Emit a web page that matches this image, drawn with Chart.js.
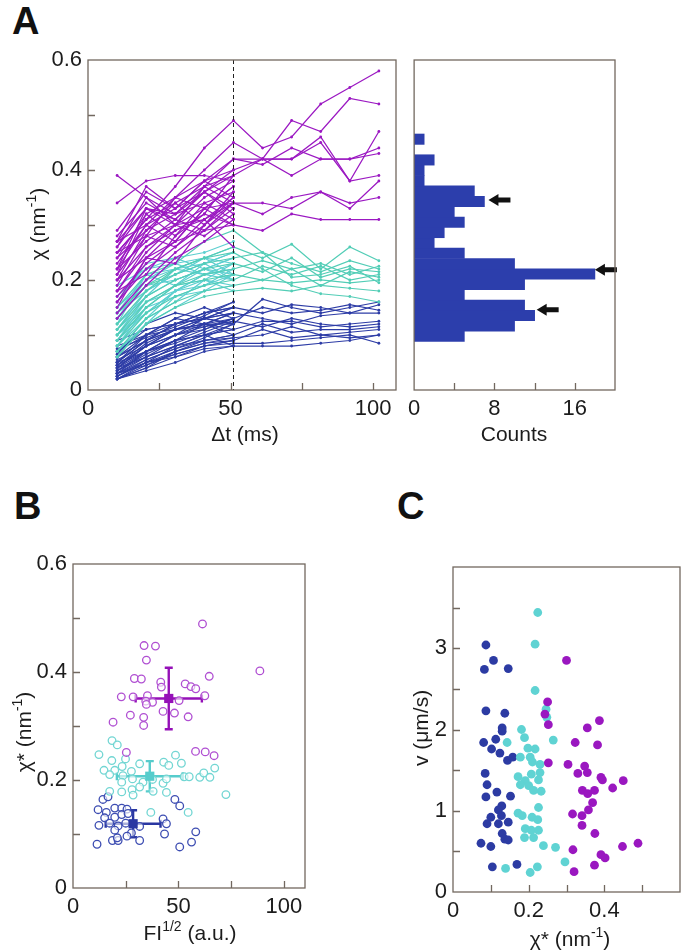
<!DOCTYPE html>
<html>
<head>
<meta charset="utf-8">
<script src="https://cdn.jsdelivr.net/npm/chart.js@4.4.1/dist/chart.umd.min.js"></script>
<style>
  html, body { margin: 0; padding: 0; background: #fff; }
  body { width: 686px; height: 952px; position: relative; overflow: hidden; }
  canvas { position: absolute; }
  .letter { position: absolute; font-family: 'Liberation Sans Narrow', 'Liberation Sans', sans-serif; font-weight: bold; font-size: 38px; line-height: 1; color: #111; }
</style>
</head>
<body>
<div class="letter" style="left:12px; top:2px;">A</div>
<div class="letter" style="left:14px; top:487px;">B</div>
<div class="letter" style="left:397px; top:487px;">C</div>
<canvas id="aLines" width="400" height="410" style="left:0; top:40px;"></canvas>
<canvas id="aHist" width="220" height="410" style="left:402px; top:40px;"></canvas>
<canvas id="bScatter" width="320" height="412" style="left:0; top:540px;"></canvas>
<canvas id="cScatter" width="306" height="412" style="left:380px; top:540px;"></canvas>
<script>
// ---- A: trajectories chi(dt) ----
const dtMs = [10.2, 20.4, 30.6, 40.8, 51.0, 61.2, 71.4, 81.6, 91.8, 102.0];
const splitDt = 51;

const purpleShort = [
  [0.39, 0.35, 0.32, 0.34, 0.36], [0.34, 0.38, 0.39, 0.39, 0.38], [0.27, 0.37, 0.33, 0.36, 0.40],
  [0.28, 0.34, 0.31, 0.36, 0.33], [0.26, 0.33, 0.30, 0.35, 0.38], [0.25, 0.31, 0.34, 0.30, 0.35],
  [0.24, 0.29, 0.32, 0.37, 0.34], [0.23, 0.30, 0.27, 0.33, 0.37], [0.22, 0.27, 0.31, 0.29, 0.33],
  [0.21, 0.32, 0.28, 0.34, 0.31], [0.20, 0.26, 0.29, 0.32, 0.39], [0.19, 0.28, 0.26, 0.31, 0.35],
  [0.18, 0.25, 0.30, 0.28, 0.32], [0.17, 0.23, 0.27, 0.33, 0.30], [0.16, 0.22, 0.26, 0.30, 0.36],
  [0.15, 0.24, 0.29, 0.31, 0.26], [0.14, 0.20, 0.25, 0.29, 0.34], [0.13, 0.19, 0.24, 0.27, 0.31],
  [0.27, 0.30, 0.33, 0.38, 0.35], [0.25, 0.28, 0.35, 0.33, 0.37], [0.22, 0.33, 0.31, 0.36, 0.32],
  [0.20, 0.24, 0.23, 0.30, 0.34], [0.18, 0.21, 0.28, 0.32, 0.30], [0.26, 0.35, 0.30, 0.37, 0.39]
];
const purpleLong = [
  [0.25, 0.31, 0.37, 0.44, 0.49, 0.44, 0.46, 0.52, 0.55, 0.58],
  [0.22, 0.30, 0.35, 0.40, 0.45, 0.42, 0.49, 0.47, 0.53, 0.52],
  [0.27, 0.33, 0.32, 0.36, 0.39, 0.42, 0.42, 0.46, 0.38, 0.47],
  [0.20, 0.29, 0.34, 0.37, 0.42, 0.41, 0.44, 0.42, 0.42, 0.44],
  [0.24, 0.32, 0.35, 0.38, 0.40, 0.42, 0.39, 0.42, 0.42, 0.43],
  [0.29, 0.36, 0.33, 0.38, 0.42, 0.42, 0.42, 0.45, 0.38, 0.39],
  [0.18, 0.26, 0.30, 0.31, 0.34, 0.32, 0.35, 0.36, 0.33, 0.38],
  [0.21, 0.28, 0.30, 0.33, 0.34, 0.34, 0.33, 0.36, 0.34, 0.35],
  [0.16, 0.24, 0.27, 0.29, 0.30, 0.29, 0.32, 0.31, 0.31, 0.31]
];
const cyanShort = [
  [0.19, 0.22, 0.24, 0.25, 0.27], [0.17, 0.22, 0.23, 0.24, 0.26], [0.15, 0.20, 0.22, 0.23, 0.25],
  [0.14, 0.18, 0.21, 0.24, 0.23], [0.13, 0.19, 0.20, 0.22, 0.24], [0.12, 0.17, 0.22, 0.21, 0.22],
  [0.11, 0.16, 0.19, 0.22, 0.21], [0.10, 0.15, 0.19, 0.20, 0.23], [0.09, 0.14, 0.18, 0.21, 0.20],
  [0.08, 0.15, 0.17, 0.19, 0.22], [0.07, 0.13, 0.16, 0.20, 0.19], [0.06, 0.12, 0.17, 0.18, 0.21],
  [0.11, 0.18, 0.21, 0.23, 0.20], [0.10, 0.17, 0.20, 0.22, 0.24], [0.09, 0.16, 0.18, 0.20, 0.18],
  [0.13, 0.20, 0.23, 0.21, 0.23], [0.08, 0.13, 0.18, 0.21, 0.22], [0.12, 0.21, 0.22, 0.24, 0.21],
  [0.14, 0.21, 0.19, 0.23, 0.25], [0.16, 0.23, 0.24, 0.22, 0.20], [0.07, 0.12, 0.15, 0.18, 0.19],
  [0.10, 0.14, 0.18, 0.19, 0.21]
];
const cyanLong = [
  [0.12, 0.18, 0.22, 0.24, 0.26, 0.24, 0.265, 0.22, 0.26, 0.235],
  [0.14, 0.19, 0.21, 0.23, 0.24, 0.25, 0.23, 0.215, 0.235, 0.22],
  [0.09, 0.15, 0.19, 0.21, 0.22, 0.235, 0.22, 0.23, 0.21, 0.225],
  [0.11, 0.17, 0.20, 0.22, 0.23, 0.215, 0.24, 0.205, 0.22, 0.215],
  [0.08, 0.14, 0.17, 0.19, 0.20, 0.225, 0.21, 0.225, 0.20, 0.21],
  [0.10, 0.16, 0.19, 0.20, 0.21, 0.20, 0.22, 0.19, 0.215, 0.205],
  [0.07, 0.13, 0.16, 0.18, 0.19, 0.20, 0.195, 0.20, 0.195, 0.20],
  [0.13, 0.19, 0.22, 0.24, 0.25, 0.22, 0.19, 0.175, 0.17, 0.16],
  [0.06, 0.12, 0.15, 0.17, 0.18, 0.185, 0.18, 0.19, 0.185, 0.18],
  [0.15, 0.21, 0.23, 0.27, 0.29, 0.25, 0.205, 0.21, 0.225, 0.195]
];
const blueShort = [
  [0.02, 0.04, 0.07, 0.09, 0.10], [0.025, 0.05, 0.08, 0.10, 0.12], [0.03, 0.06, 0.09, 0.11, 0.13],
  [0.035, 0.07, 0.10, 0.12, 0.14], [0.04, 0.08, 0.11, 0.13, 0.15], [0.045, 0.07, 0.09, 0.12, 0.11],
  [0.05, 0.09, 0.12, 0.14, 0.16], [0.055, 0.08, 0.10, 0.11, 0.13], [0.06, 0.10, 0.13, 0.12, 0.14],
  [0.03, 0.05, 0.06, 0.08, 0.09], [0.04, 0.06, 0.08, 0.10, 0.08], [0.05, 0.07, 0.10, 0.13, 0.12],
  [0.07, 0.11, 0.12, 0.14, 0.15], [0.08, 0.10, 0.13, 0.15, 0.13], [0.035, 0.065, 0.09, 0.10, 0.11],
  [0.045, 0.085, 0.11, 0.12, 0.10], [0.02, 0.035, 0.05, 0.07, 0.08], [0.06, 0.09, 0.11, 0.13, 0.14],
  [0.025, 0.055, 0.075, 0.095, 0.12], [0.065, 0.12, 0.14, 0.13, 0.15], [0.09, 0.11, 0.12, 0.13, 0.12],
  [0.04, 0.07, 0.085, 0.105, 0.125], [0.03, 0.045, 0.07, 0.085, 0.095], [0.05, 0.10, 0.11, 0.115, 0.13],
  [0.075, 0.095, 0.115, 0.135, 0.16], [0.02, 0.05, 0.065, 0.08, 0.09]
];
const blueLong = [
  [0.06, 0.09, 0.11, 0.12, 0.12, 0.165, 0.15, 0.14, 0.15, 0.16],
  [0.05, 0.09, 0.12, 0.14, 0.15, 0.14, 0.155, 0.15, 0.14, 0.155],
  [0.04, 0.08, 0.11, 0.12, 0.13, 0.15, 0.14, 0.145, 0.155, 0.145],
  [0.07, 0.10, 0.12, 0.13, 0.14, 0.13, 0.12, 0.135, 0.14, 0.14],
  [0.03, 0.07, 0.09, 0.10, 0.11, 0.125, 0.125, 0.115, 0.12, 0.125],
  [0.045, 0.08, 0.10, 0.115, 0.125, 0.115, 0.13, 0.12, 0.115, 0.12],
  [0.035, 0.06, 0.08, 0.09, 0.10, 0.12, 0.105, 0.11, 0.11, 0.115],
  [0.03, 0.055, 0.075, 0.09, 0.095, 0.10, 0.115, 0.10, 0.105, 0.11],
  [0.025, 0.05, 0.07, 0.085, 0.09, 0.11, 0.095, 0.10, 0.095, 0.10],
  [0.02, 0.045, 0.065, 0.08, 0.085, 0.085, 0.09, 0.095, 0.10, 0.085],
  [0.02, 0.04, 0.06, 0.075, 0.08, 0.08, 0.08, 0.085, 0.09, 0.10]
];

// ---- A: histogram of chi ----
const chiBins = [0.064, 0.086, 0.108, 0.130, 0.152, 0.174, 0.196, 0.218, 0.240, 0.262,
                 0.284, 0.306, 0.328, 0.350, 0.372, 0.394, 0.416, 0.438, 0.460, 0.482];
const binCounts = [5, 10, 12, 11, 5, 11, 18, 10, 5, 2, 3, 5, 4, 7, 6, 1, 1, 2, 0, 1];
const arrowCounts = [7.4, 18.0, 12.2];
const arrowChi = [0.353, 0.205, 0.120];

// ---- B: chi* vs FI^1/2 ----
const bPurpleFI = [61.4, 33.7, 39.1, 34.8, 88.6, 29.1, 32.4, 64.6, 41.6, 41.9, 53.2, 55.9, 58.2, 22.9, 28.5, 35.3,
                   62.5, 34.5, 37.7, 50.3, 34.8, 42.7, 48.1, 27.2, 33.5, 54.6, 33.5, 19.0, 25.3, 58.1, 62.7, 66.9];
const bPurpleChi = [0.489, 0.449, 0.448, 0.422, 0.402, 0.388, 0.387, 0.392, 0.381, 0.372, 0.378, 0.373, 0.369, 0.354, 0.354, 0.356,
                    0.356, 0.346, 0.344, 0.347, 0.340, 0.327, 0.324, 0.320, 0.316, 0.317, 0.301, 0.307, 0.251, 0.253, 0.252, 0.245];
const bCyanFI = [18.5, 21.0, 12.3, 18.4, 24.9, 14.7, 19.8, 23.3, 31.6, 43.0, 45.4, 48.6, 51.4, 67.2, 17.4, 23.7, 27.7, 52.7, 55.1,
                 60.1, 62.0, 64.9, 23.1, 28.2, 33.2, 37.7, 42.7, 44.3, 17.4, 23.1, 28.0, 28.5, 31.6, 38.0, 44.3, 72.5, 36.9, 54.6];
const bCyanChi = [0.273, 0.265, 0.247, 0.236, 0.239, 0.218, 0.218, 0.225, 0.230, 0.233, 0.227, 0.246, 0.231, 0.222, 0.210, 0.208, 0.216, 0.206, 0.206,
                  0.205, 0.213, 0.205, 0.196, 0.202, 0.196, 0.201, 0.194, 0.202, 0.179, 0.178, 0.182, 0.172, 0.187, 0.179, 0.177, 0.173, 0.140, 0.140];
const bBlueFI = [14.2, 16.6, 11.9, 19.8, 23.1, 25.6, 15.8, 15.0, 19.8, 23.1, 26.1, 42.7, 44.3, 12.3, 17.4, 21.4, 25.0, 31.6,
                 48.3, 50.6, 43.4, 19.8, 27.7, 25.6, 18.7, 21.4, 21.0, 31.6, 11.4, 50.6, 56.2, 58.2];
const bBlueChi = [0.164, 0.169, 0.145, 0.148, 0.148, 0.146, 0.140, 0.130, 0.131, 0.136, 0.138, 0.128, 0.119, 0.116, 0.120, 0.115, 0.120, 0.114,
                  0.164, 0.152, 0.100, 0.107, 0.102, 0.096, 0.088, 0.088, 0.093, 0.088, 0.081, 0.076, 0.085, 0.104];
// group means with error bars: blue, cyan, purple
const meanFI = [28.5, 36.4, 45.4];
const meanChi = [0.119, 0.207, 0.351];
const errFI = [13.0, 15.6, 15.7];
const errChi = [0.025, 0.028, 0.057];

// ---- C: v vs chi* ----
const cBlueChi = [0.087, 0.107, 0.083, 0.146, 0.087, 0.137, 0.130, 0.130, 0.081, 0.113, 0.102, 0.124, 0.144, 0.158, 0.085, 0.090, 0.116,
                  0.087, 0.152, 0.129, 0.120, 0.100, 0.128, 0.090, 0.120, 0.146, 0.130, 0.137, 0.146, 0.074, 0.100, 0.104, 0.169];
const cBlueV = [3.04, 2.85, 2.74, 2.75, 2.23, 2.20, 2.02, 1.98, 1.84, 1.88, 1.76, 1.71, 1.62, 1.66, 1.46, 1.32, 1.23,
                1.17, 1.18, 1.06, 1.01, 0.92, 0.94, 0.84, 0.84, 0.86, 0.72, 0.65, 0.64, 0.60, 0.56, 0.31, 0.34];
const cCyanChi = [0.224, 0.217, 0.217, 0.246, 0.248, 0.143, 0.181, 0.189, 0.265, 0.178, 0.198, 0.217, 0.204, 0.210, 0.230, 0.172, 0.207, 0.230, 0.191,
                  0.226, 0.178, 0.200, 0.213, 0.233, 0.226, 0.172, 0.183, 0.209, 0.224, 0.191, 0.207, 0.226, 0.189, 0.213, 0.239, 0.271, 0.296, 0.139, 0.204, 0.223];
const cCyanV = [3.44, 3.05, 2.48, 2.25, 2.15, 1.84, 2.00, 1.90, 1.87, 1.66, 1.77, 1.76, 1.66, 1.60, 1.57, 1.42, 1.45, 1.47, 1.37,
                1.38, 1.32, 1.31, 1.25, 1.24, 1.04, 0.97, 0.94, 0.92, 0.89, 0.78, 0.76, 0.76, 0.67, 0.67, 0.57, 0.55, 0.37, 0.29, 0.24, 0.31];
const cPurpleChi = [0.300, 0.250, 0.243, 0.252, 0.387, 0.355, 0.323, 0.382, 0.252, 0.304, 0.348, 0.330, 0.355, 0.391, 0.395, 0.450, 0.422,
                    0.342, 0.374, 0.356, 0.369, 0.358, 0.316, 0.341, 0.341, 0.375, 0.317, 0.448, 0.489, 0.391, 0.402, 0.374, 0.320];
const cPurpleV = [2.85, 2.34, 2.19, 2.06, 2.11, 2.02, 1.84, 1.81, 1.59, 1.57, 1.55, 1.46, 1.47, 1.41, 1.38, 1.37, 1.28,
                  1.25, 1.25, 1.21, 1.10, 1.01, 0.96, 0.94, 0.82, 0.72, 0.52, 0.56, 0.60, 0.46, 0.42, 0.33, 0.25];

// ---- styling ----
const PURPLE = '#9b18c2';
const CYAN = '#5ccfd0';
const TEAL = '#52cdb6';
const BLUE = '#2d3ca6';
const HIST_BLUE = '#2c3eac';
const FRAME = '#72685f';
const INK = '#1c1c1c';
const FONT = "'Liberation Sans', Arial, sans-serif";

Chart.defaults.animation = false;
Chart.defaults.font.family = FONT;
Chart.defaults.color = INK;
Chart.defaults.plugins.legend.display = false;
Chart.defaults.plugins.tooltip.enabled = false;

const fmt = v => String(+v.toFixed(2));

function axis(min, max, step, size, isY, hideAbove) {
  return {
    type: 'linear', min, max,
    grid: { display: false, drawTicks: false },
    border: { display: false },
    ticks: {
      stepSize: step, includeBounds: false, autoSkip: false, maxRotation: 0, minRotation: 0,
      padding: isY ? 6 : 6, font: { size: 22 }, color: INK,
      callback: v => (hideAbove !== undefined && v > hideAbove + 1e-9 ? '' : fmt(v))
    },
    afterFit: s => { if (isY) s.width = size; else s.height = size; }
  };
}

// frame + inward ticks on bottom and left axes
const framePlugin = {
  id: 'frame',
  afterDraw(chart, args, opts) {
    const { ctx, chartArea: a, scales } = chart;
    ctx.save();
    ctx.strokeStyle = FRAME;
    ctx.lineWidth = 1.3;
    ctx.strokeRect(a.left, a.top, a.width, a.height);
    ctx.beginPath();
    (opts.xTicks || []).forEach(v => {
      const px = Math.round(scales.x.getPixelForValue(v)) + 0.5;
      ctx.moveTo(px, a.bottom); ctx.lineTo(px, a.bottom - 7);
    });
    (opts.yTicks || []).forEach(v => {
      const py = Math.round(scales.y.getPixelForValue(v)) + 0.5;
      ctx.moveTo(a.left, py); ctx.lineTo(a.left + 7, py);
    });
    ctx.stroke();
    ctx.restore();
  }
};

// axis titles with superscripts
function drawRich(ctx, parts, cx, cy, rotate) {
  const size = 21, sup = 14;
  ctx.save();
  ctx.translate(cx, cy);
  if (rotate) ctx.rotate(-Math.PI / 2);
  ctx.fillStyle = INK;
  ctx.textBaseline = 'alphabetic';
  ctx.textAlign = 'left';
  let w = 0;
  parts.forEach(p => { ctx.font = (p[1] ? sup : size) + 'px ' + FONT; w += ctx.measureText(p[0]).width; });
  let x = -w / 2;
  parts.forEach(p => {
    ctx.font = (p[1] ? sup : size) + 'px ' + FONT;
    ctx.fillText(p[0], x, p[1] ? -1 : 8);
    x += ctx.measureText(p[0]).width;
  });
  ctx.restore();
}
const titlePlugin = {
  id: 'titles',
  afterDraw(chart, args, opts) {
    const ctx = chart.ctx;
    if (opts.x) drawRich(ctx, opts.x.parts, opts.x.cx, opts.x.cy, false);
    if (opts.y) drawRich(ctx, opts.y.parts, opts.y.cx, opts.y.cy, true);
  }
};

// ---- Panel A left ----
function traj(vals, color) {
  return {
    data: vals.map((v, i) => ({ x: dtMs[i], y: v })),
    borderColor: color, backgroundColor: color,
    borderWidth: 1.25, pointRadius: 1.4, pointBorderWidth: 0, tension: 0
  };
}
const lineSets = [].concat(
  purpleLong.map(v => traj(v, PURPLE)),
  purpleShort.map(v => traj(v, PURPLE)),
  cyanLong.map(v => traj(v, TEAL)),
  cyanShort.map(v => traj(v, CYAN)),
  blueLong.map(v => traj(v, BLUE)),
  blueShort.map(v => traj(v, BLUE))
);

new Chart(document.getElementById('aLines'), {
  type: 'line',
  data: { datasets: lineSets },
  options: {
    responsive: false, devicePixelRatio: 1,
    layout: { padding: { left: 0, right: 2, top: 20, bottom: 0 } },
    scales: {
      x: axis(0, 108, 50, 60, false),
      y: axis(0, 0.6, 0.2, 88, true)
    },
    plugins: {
      frame: { xTicks: [25, 50, 75, 100], yTicks: [0.1, 0.2, 0.3, 0.4, 0.5] },
      titles: {
        x: { parts: [['Δt (ms)', false]], cx: 245, cy: 393 },
        y: { parts: [['χ (nm', false], ['-1', true], [')', false]], cx: 37, cy: 184 }
      }
    }
  },
  plugins: [framePlugin, titlePlugin, {
    id: 'split',
    afterDatasetsDraw(chart) {
      const { ctx, chartArea: a, scales } = chart;
      const px = Math.round(scales.x.getPixelForValue(splitDt)) + 0.5;
      ctx.save();
      ctx.strokeStyle = '#222';
      ctx.lineWidth = 1;
      ctx.setLineDash([4, 3]);
      ctx.beginPath(); ctx.moveTo(px, a.top); ctx.lineTo(px, a.bottom); ctx.stroke();
      ctx.restore();
    }
  }]
});

// ---- Panel A right (histogram) ----
new Chart(document.getElementById('aHist'), {
  type: 'bar',
  data: {
    datasets: [{
      data: chiBins.map((c, i) => ({ x: binCounts[i], y: c })),
      backgroundColor: HIST_BLUE, borderColor: HIST_BLUE, borderWidth: 0,
      barPercentage: 1, categoryPercentage: 1
    }]
  },
  options: {
    indexAxis: 'y',
    responsive: false, devicePixelRatio: 1,
    layout: { padding: { left: 10, right: 7, top: 20, bottom: 0 } },
    scales: {
      x: axis(0, 20, 8, 60, false),
      y: { type: 'linear', min: 0, max: 0.6, display: false, ticks: { stepSize: 0.1 } }
    },
    plugins: {
      frame: { xTicks: [4, 8, 12, 16], yTicks: [] },
      titles: { x: { parts: [['Counts', false]], cx: 112, cy: 393 } }
    }
  },
  plugins: [framePlugin, titlePlugin, {
    id: 'arrows',
    afterDatasetsDraw(chart) {
      const { ctx, scales } = chart;
      ctx.save();
      ctx.fillStyle = '#111';
      arrowCounts.forEach((c, i) => {
        const x = scales.x.getPixelForValue(c), y = scales.y.getPixelForValue(arrowChi[i]);
        ctx.beginPath();
        ctx.moveTo(x, y);
        ctx.lineTo(x + 10, y - 6);
        ctx.lineTo(x + 10, y - 2.5);
        ctx.lineTo(x + 22, y - 2.5);
        ctx.lineTo(x + 22, y + 2.5);
        ctx.lineTo(x + 10, y + 2.5);
        ctx.lineTo(x + 10, y + 6);
        ctx.closePath();
        ctx.fill();
      });
      ctx.restore();
    }
  }]
});

// ---- Panel B ----
function pts(xs, ys) { return xs.map((x, i) => ({ x, y: ys[i] })); }
function openSet(xs, ys, color) {
  return { data: pts(xs, ys), pointRadius: 3.8, borderWidth: 1.3, borderColor: color, backgroundColor: 'rgba(255,255,255,0.6)' };
}
const meanColors = ['#2a37a2', '#56cccc', '#9510b8'];

new Chart(document.getElementById('bScatter'), {
  type: 'scatter',
  data: {
    datasets: [
      { data: pts(meanFI, meanChi), pointStyle: 'rect', pointRadius: 6.5, borderWidth: 0, backgroundColor: meanColors },
      openSet(bPurpleFI, bPurpleChi, '#b04fd2'),
      openSet(bCyanFI, bCyanChi, '#72d6d3'),
      openSet(bBlueFI, bBlueChi, '#3d4db2')
    ]
  },
  options: {
    responsive: false, devicePixelRatio: 1,
    layout: { padding: { left: 0, right: 15, top: 24, bottom: 0 } },
    scales: {
      x: axis(0, 110, 50, 64, false),
      y: axis(0, 0.6, 0.2, 73, true)
    },
    plugins: {
      frame: { xTicks: [25, 50, 75, 100], yTicks: [0.1, 0.2, 0.3, 0.4, 0.5] },
      titles: {
        x: { parts: [['FI', false], ['1/2', true], [' (a.u.)', false]], cx: 190, cy: 392 },
        y: { parts: [['χ* (nm', false], ['-1', true], [')', false]], cx: 23, cy: 192 }
      }
    }
  },
  plugins: [framePlugin, titlePlugin, {
    id: 'errorBars',
    beforeDatasetsDraw(chart) {
      const { ctx, scales } = chart;
      ctx.save();
      ctx.lineWidth = 2.4;
      meanFI.forEach((m, i) => {
        const cx = scales.x.getPixelForValue(m), cy = scales.y.getPixelForValue(meanChi[i]);
        const x0 = scales.x.getPixelForValue(m - errFI[i]), x1 = scales.x.getPixelForValue(m + errFI[i]);
        const y0 = scales.y.getPixelForValue(meanChi[i] - errChi[i]), y1 = scales.y.getPixelForValue(meanChi[i] + errChi[i]);
        ctx.strokeStyle = meanColors[i];
        ctx.beginPath();
        ctx.moveTo(x0, cy); ctx.lineTo(x1, cy);
        ctx.moveTo(x0, cy - 4); ctx.lineTo(x0, cy + 4);
        ctx.moveTo(x1, cy - 4); ctx.lineTo(x1, cy + 4);
        ctx.moveTo(cx, y0); ctx.lineTo(cx, y1);
        ctx.moveTo(cx - 4, y0); ctx.lineTo(cx + 4, y0);
        ctx.moveTo(cx - 4, y1); ctx.lineTo(cx + 4, y1);
        ctx.stroke();
      });
      ctx.restore();
    }
  }]
});

// ---- Panel C ----
function fillSet(xs, ys, color) {
  return { data: pts(xs, ys), pointRadius: 4.4, borderWidth: 0, backgroundColor: color };
}
new Chart(document.getElementById('cScatter'), {
  type: 'scatter',
  data: {
    datasets: [
      fillSet(cPurpleChi, cPurpleV, '#9a17c0'),
      fillSet(cCyanChi, cCyanV, '#5fd3d3'),
      fillSet(cBlueChi, cBlueV, '#2c3ba3')
    ]
  },
  options: {
    responsive: false, devicePixelRatio: 1,
    layout: { padding: { left: 0, right: 1, top: 27, bottom: 0 } },
    scales: {
      x: axis(0, 0.6, 0.2, 60, false, 0.5),
      y: axis(0, 4, 1, 73, true, 3.5)
    },
    plugins: {
      frame: { xTicks: [0.1, 0.2, 0.3, 0.4, 0.5], yTicks: [0.5, 1, 1.5, 2, 2.5, 3, 3.5] },
      titles: {
        x: { parts: [['χ* (nm', false], ['-1', true], [')', false]], cx: 190, cy: 398 },
        y: { parts: [['v (μm/s)', false]], cx: 40, cy: 188 }
      }
    }
  },
  plugins: [framePlugin, titlePlugin]
});
</script>
</body>
</html>
